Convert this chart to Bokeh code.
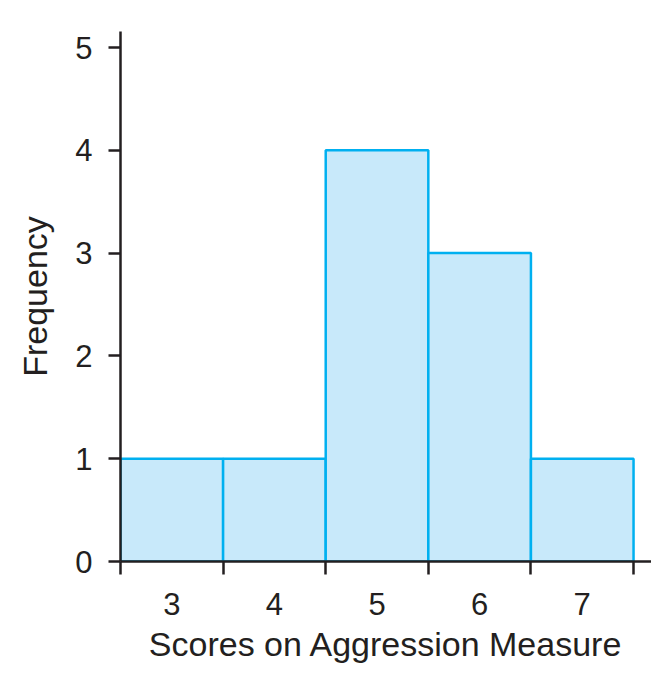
from bokeh.plotting import figure
from bokeh.models import Range1d, FixedTicker, ColumnDataSource
from bokeh.embed import file_html
from bokeh.resources import INLINE

scores = [3, 4, 5, 6, 7]
frequency = [1, 1, 4, 3, 1]
y_ticks = [0, 1, 2, 3, 4, 5]
bin_edges = [s - 0.5 for s in scores] + [scores[-1] + 0.5]

FONT = "Liberation Sans"
INK = "#231f20"

src = ColumnDataSource(dict(x=scores, top=frequency))

p = figure(width=651, height=669, output_backend="svg", toolbar_location=None,
           x_range=Range1d(2.5, 7.675), y_range=Range1d(0, 5.156),
           min_border_left=120, min_border_right=0, min_border_top=31, min_border_bottom=108)
p.background_fill_color = "white"
p.border_fill_color = "white"
p.outline_line_color = None
p.xgrid.visible = False
p.ygrid.visible = False

p.vbar(x="x", top="top", bottom=0, width=1, source=src,
       fill_color="#c8e9fa", line_color="#00b0f0", line_width=2.5)

xa = p.xaxis[0]
xa.ticker = FixedTicker(ticks=scores, minor_ticks=bin_edges)
xa.axis_line_color = INK
xa.axis_line_width = 2.5
xa.major_tick_line_color = None
xa.major_tick_out = 13
xa.major_tick_in = 0
xa.minor_tick_line_color = INK
xa.minor_tick_line_width = 2.5
xa.minor_tick_out = 13
xa.minor_tick_in = 0
xa.major_label_text_font = FONT
xa.major_label_text_font_size = "31px"
xa.major_label_text_color = INK
xa.major_label_standoff = 18
xa.axis_label = "Scores on Aggression Measure"
xa.axis_label_text_font = FONT
xa.axis_label_text_font_size = "34px"
xa.axis_label_text_font_style = "normal"
xa.axis_label_text_color = INK
xa.axis_label_standoff = 7

ya = p.yaxis[0]
ya.ticker = FixedTicker(ticks=y_ticks)
ya.axis_line_color = INK
ya.axis_line_width = 2.5
ya.major_tick_line_color = INK
ya.major_tick_line_width = 2.5
ya.major_tick_out = 12
ya.major_tick_in = 0
ya.minor_tick_line_color = None
ya.major_label_text_font = FONT
ya.major_label_text_font_size = "31px"
ya.major_label_text_color = INK
ya.major_label_standoff = 16
ya.axis_label = "Frequency"
ya.axis_label_text_font = FONT
ya.axis_label_text_font_size = "34px"
ya.axis_label_text_font_style = "normal"
ya.axis_label_text_color = INK
ya.axis_label_standoff = 18

open("out.html", "w").write(file_html(p, INLINE))
